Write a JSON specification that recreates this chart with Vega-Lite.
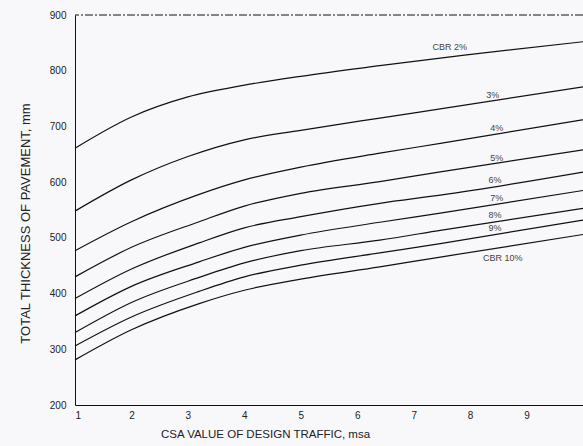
{
  "$schema": "https://vega.github.io/schema/vega-lite/v6.json",
  "autosize": {"type": "none"},
  "padding": {"left": 75, "top": 15, "right": 0, "bottom": 41},
  "width": 508,
  "height": 390,
  "background": "#f8f8fa",
  "view": {"stroke": null},
  "config": {"font": "Liberation Sans"},
  "datasets": {
    "curves": [
      {"cbr": "2%", "x": 1, "t": 661}, {"cbr": "2%", "x": 2, "t": 717}, {"cbr": "2%", "x": 3, "t": 753}, {"cbr": "2%", "x": 4, "t": 774}, {"cbr": "2%", "x": 5, "t": 790}, {"cbr": "2%", "x": 6.4, "t": 809}, {"cbr": "2%", "x": 7.9, "t": 828}, {"cbr": "2%", "x": 10, "t": 852},
      {"cbr": "3%", "x": 1, "t": 548}, {"cbr": "3%", "x": 2, "t": 604}, {"cbr": "3%", "x": 3, "t": 646}, {"cbr": "3%", "x": 4, "t": 676}, {"cbr": "3%", "x": 5, "t": 693}, {"cbr": "3%", "x": 6.4, "t": 715}, {"cbr": "3%", "x": 7.5, "t": 732}, {"cbr": "3%", "x": 10, "t": 771},
      {"cbr": "4%", "x": 1, "t": 477}, {"cbr": "4%", "x": 2, "t": 529}, {"cbr": "4%", "x": 3.2, "t": 578}, {"cbr": "4%", "x": 4, "t": 604}, {"cbr": "4%", "x": 5, "t": 627}, {"cbr": "4%", "x": 6.4, "t": 652}, {"cbr": "4%", "x": 7.5, "t": 670}, {"cbr": "4%", "x": 10, "t": 712},
      {"cbr": "5%", "x": 1, "t": 430}, {"cbr": "5%", "x": 2, "t": 483}, {"cbr": "5%", "x": 3.2, "t": 529}, {"cbr": "5%", "x": 4, "t": 557}, {"cbr": "5%", "x": 5, "t": 580}, {"cbr": "5%", "x": 6.4, "t": 601}, {"cbr": "5%", "x": 7.5, "t": 619}, {"cbr": "5%", "x": 10, "t": 658},
      {"cbr": "6%", "x": 1, "t": 391}, {"cbr": "6%", "x": 2, "t": 444}, {"cbr": "6%", "x": 3.2, "t": 491}, {"cbr": "6%", "x": 4, "t": 518}, {"cbr": "6%", "x": 5, "t": 538}, {"cbr": "6%", "x": 6.4, "t": 562}, {"cbr": "6%", "x": 7.5, "t": 577}, {"cbr": "6%", "x": 10, "t": 618},
      {"cbr": "7%", "x": 1, "t": 360}, {"cbr": "7%", "x": 2, "t": 413}, {"cbr": "7%", "x": 3.2, "t": 457}, {"cbr": "7%", "x": 4, "t": 483}, {"cbr": "7%", "x": 5, "t": 505}, {"cbr": "7%", "x": 6.4, "t": 528}, {"cbr": "7%", "x": 7.5, "t": 545}, {"cbr": "7%", "x": 10, "t": 585},
      {"cbr": "8%", "x": 1, "t": 330}, {"cbr": "8%", "x": 2, "t": 384}, {"cbr": "8%", "x": 3.2, "t": 429}, {"cbr": "8%", "x": 4, "t": 455}, {"cbr": "8%", "x": 5, "t": 477}, {"cbr": "8%", "x": 6.4, "t": 496}, {"cbr": "8%", "x": 7.5, "t": 514}, {"cbr": "8%", "x": 10, "t": 553},
      {"cbr": "9%", "x": 1, "t": 306}, {"cbr": "9%", "x": 2, "t": 358}, {"cbr": "9%", "x": 3.2, "t": 404}, {"cbr": "9%", "x": 4, "t": 430}, {"cbr": "9%", "x": 5, "t": 451}, {"cbr": "9%", "x": 6.4, "t": 473}, {"cbr": "9%", "x": 7.5, "t": 490}, {"cbr": "9%", "x": 10, "t": 532},
      {"cbr": "10%", "x": 1, "t": 281}, {"cbr": "10%", "x": 2, "t": 335}, {"cbr": "10%", "x": 3.2, "t": 382}, {"cbr": "10%", "x": 4, "t": 406}, {"cbr": "10%", "x": 5, "t": 426}, {"cbr": "10%", "x": 6.4, "t": 448}, {"cbr": "10%", "x": 7.5, "t": 466}, {"cbr": "10%", "x": 10, "t": 506}
    ],
    "labels": [
      {"label": "CBR 2%", "x": 7.64, "t": 843},
      {"label": "3%", "x": 8.4, "t": 757},
      {"label": "4%", "x": 8.47, "t": 697},
      {"label": "5%", "x": 8.47, "t": 643},
      {"label": "6%", "x": 8.44, "t": 604},
      {"label": "7%", "x": 8.47, "t": 572},
      {"label": "8%", "x": 8.44, "t": 541},
      {"label": "9%", "x": 8.44, "t": 518},
      {"label": "CBR 10%", "x": 8.58, "t": 464}
    ],
    "frame": [{"t": 900}]
  },
  "layer": [
    {
      "data": {"name": "curves"},
      "mark": {"type": "line", "interpolate": "monotone", "color": "#111111", "strokeWidth": 1.2},
      "encoding": {
        "x": {
          "field": "x", "type": "quantitative",
          "scale": {"domain": [1, 10], "nice": false, "zero": false},
          "axis": {
            "values": [1, 2, 3, 4, 5, 6, 7, 8, 9], "format": "d",
            "grid": false, "ticks": false, "labelPadding": 5,
            "labelFontSize": 10, "labelColor": "#222222",
            "domainColor": "#111111", "domainWidth": 1,
            "title": "CSA VALUE OF DESIGN TRAFFIC, msa",
            "titleFontSize": 11.5, "titleFontWeight": "normal", "titleColor": "#222222",
            "titleX": 190, "titleY": 32, "titleBaseline": "alphabetic", "titleAlign": "center", "titleAnchor": null
          }
        },
        "y": {
          "field": "t", "type": "quantitative",
          "scale": {"domain": [200, 900], "nice": false, "zero": false},
          "axis": {
            "values": [200, 300, 400, 500, 600, 700, 800, 900], "format": "d",
            "grid": false, "ticks": false, "labelPadding": 9,
            "labelFontSize": 10, "labelColor": "#222222",
            "domainColor": "#111111", "domainWidth": 1,
            "title": "TOTAL THICKNESS OF PAVEMENT, mm",
            "titleFontSize": 13, "titleFontWeight": "normal", "titleColor": "#222222",
            "titleAngle": -90, "titleX": -50, "titleY": 208, "titleBaseline": "middle", "titleAlign": "center", "titleAnchor": null
          }
        },
        "detail": {"field": "cbr", "type": "nominal"}
      }
    },
    {
      "data": {"name": "frame"},
      "mark": {"type": "rule", "color": "#111111", "strokeWidth": 1, "strokeDash": [8, 2, 2, 2]},
      "encoding": {"y": {"field": "t", "type": "quantitative"}}
    },
    {
      "data": {"name": "labels"},
      "mark": {"type": "text", "fontSize": 9, "color": "#444444", "align": "center", "baseline": "middle"},
      "encoding": {
        "x": {"field": "x", "type": "quantitative"},
        "y": {"field": "t", "type": "quantitative"},
        "text": {"field": "label", "type": "nominal"}
      }
    }
  ]
}
